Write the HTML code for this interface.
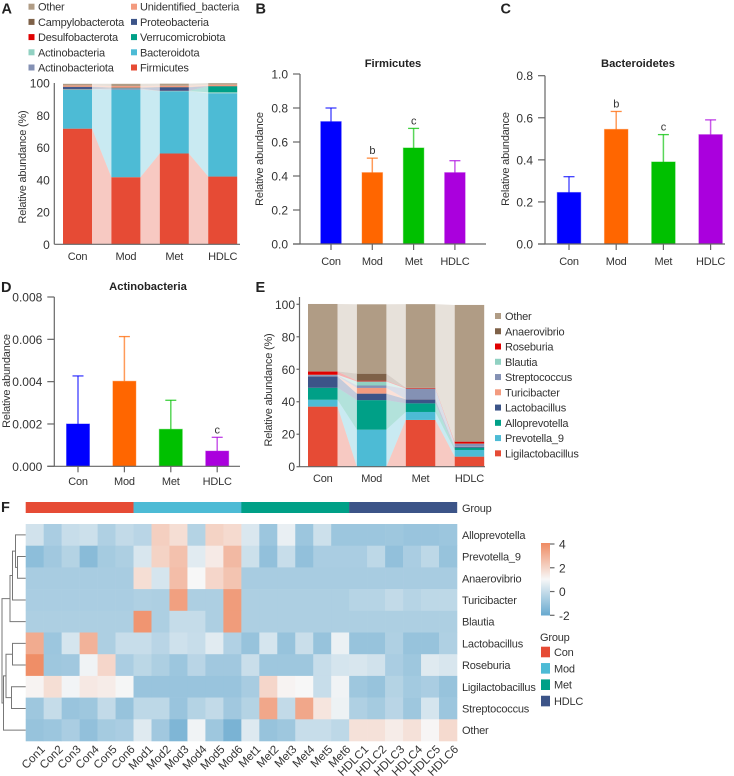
<!DOCTYPE html>
<html lang="en">
<head>
<meta charset="utf-8">
<title>Gut microbiota abundance figure</title>
<style>
html,body{margin:0;padding:0;background:#fff;width:734px;height:776px;overflow:hidden}
svg{display:block;font-family:"Liberation Sans",Arial,sans-serif;fill:#333;filter:blur(.3px)}
.plabel{font-size:14.5px;font-weight:bold;fill:#222}
.title{font-size:11.2px;font-weight:bold;fill:#222;text-anchor:middle}
.lab{letter-spacing:-.2px}
</style>
</head>
<body>
<svg id="figure" xmlns="http://www.w3.org/2000/svg" width="734" height="776" viewBox="0 0 734 776">
  <defs>
    <linearGradient id="cbar" x1="0" y1="1" x2="0" y2="0">
      <stop offset="0" stop-color="#67a9cf"/>
      <stop offset="0.5" stop-color="#f7f7f7"/>
      <stop offset="1" stop-color="#ef8a62"/>
    </linearGradient>
  </defs>
  <text class="plabel" x="1.5" y="13.5">A</text>
  <text class="plabel" x="255.5" y="13.5">B</text>
  <text class="plabel" x="500.5" y="13.5">C</text>
  <text class="plabel" x="1" y="292">D</text>
  <text class="plabel" x="255.5" y="292">E</text>
  <text class="plabel" x="1" y="512">F</text>
  <text class="title" x="393" y="67">Firmicutes</text>
  <text class="title" x="638" y="67">Bacteroidetes</text>
  <text class="title" x="148" y="290">Actinobacteria</text>
  <g id="panelA"></g>
  <g id="panelB"></g>
  <g id="panelC"></g>
  <g id="panelD"></g>
  <g id="panelE"></g>
  <g id="panelF"></g>
</svg>
<script>
const groups = ['Con', 'Mod', 'Met', 'HDLC'];

/* Panel A */
const phylumNames = ['Firmicutes','Bacteroidota','Actinobacteriota','Actinobacteria','Verrucomicrobiota','Desulfobacterota','Proteobacteria','Campylobacterota','Unidentified_bacteria','Other'];
const phylumValues = [
  [71.7, 41.6, 56.3, 42.0],
  [24.2, 54.3, 38.5, 51.6],
  [0.1, 0.5, 0.1, 0.05],
  [0.1, 0.1, 0.1, 0.6],
  [0.1, 0.1, 0.1, 3.7],
  [0.1, 0.1, 0.1, 0.05],
  [1.2, 0.3, 2.1, 0.05],
  [0.2, 0.2, 0.2, 0.1],
  [0.8, 0.9, 0.8, 0.8],
  [1.0, 1.4, 1.3, 0.95]
];
const phylumTicks = [0, 20, 40, 60, 80, 100];
const phylumLegendLeft = ['Other','Campylobacterota','Desulfobacterota','Actinobacteria','Actinobacteriota'];
const phylumLegendRight = ['Unidentified_bacteria','Proteobacteria','Verrucomicrobiota','Bacteroidota','Firmicutes'];

/* Panel B */
const firmicutesMeans = [0.72, 0.42, 0.565, 0.42];
const firmicutesUpper = [0.80, 0.505, 0.68, 0.49];
const firmicutesMarks = ['', 'b', 'c', ''];
const firmicutesTicks = ['0.0', '0.2', '0.4', '0.6', '0.8', '1.0'];

/* Panel C */
const bacteroidetesMeans = [0.245, 0.545, 0.39, 0.52];
const bacteroidetesUpper = [0.32, 0.63, 0.52, 0.59];
const bacteroidetesMarks = ['', 'b', 'c', ''];
const bacteroidetesTicks = ['0.0', '0.2', '0.4', '0.6', '0.8'];

/* Panel D */
const actinobacteriaMeans = [0.002, 0.00402, 0.00175, 0.00072];
const actinobacteriaUpper = [0.00427, 0.00613, 0.00312, 0.00137];
const actinobacteriaMarks = ['', '', '', 'c'];
const actinobacteriaTicks = ['0.000', '0.002', '0.004', '0.006', '0.008'];

/* Panel E */
const genusNames = ['Ligilactobacillus','Prevotella_9','Alloprevotella','Lactobacillus','Turicibacter','Streptococcus','Blautia','Roseburia','Anaerovibrio','Other'];
const genusValues = [
  [37.0, 0.0, 28.8, 6.2],
  [4.2, 22.8, 4.9, 4.1],
  [7.4, 18.2, 5.3, 1.4],
  [7.0, 4.0, 2.5, 0.5],
  [0.1, 3.5, 0.1, 0.1],
  [0.7, 1.5, 6.3, 1.7],
  [0.2, 2.5, 0.2, 0.2],
  [2.0, 0.5, 0.4, 1.2],
  [0.1, 4.3, 0.1, 0.1],
  [41.5, 42.7, 51.5, 84.1]
];
const genusTicks = [0, 20, 40, 60, 80, 100];

/* Panel F */
const heatColumns = ['Con1','Con2','Con3','Con4','Con5','Con6','Mod1','Mod2','Mod3','Mod4','Mod5','Mod6','Met1','Met2','Met3','Met4','Met5','Met6','HDLC1','HDLC2','HDLC3','HDLC4','HDLC5','HDLC6'];
const heatRows = ['Alloprevotella','Prevotella_9','Anaerovibrio','Turicibacter','Blautia','Lactobacillus','Roseburia','Ligilactobacillus','Streptococcus','Other'];
const heatValues = [
  [0.2,-0.6,0,0.1,-0.5,-0.1,-0.3,2.1,1.7,-0.4,2,1.8,0.4,-0.9,0.7,-0.9,0.1,-0.9,-0.9,-0.9,-0.85,-0.95,-0.95,-0.9],
  [-1.2,-0.8,-0.4,-1.3,-0.7,-0.55,0.35,2,2.5,0.55,1.35,2.7,0.1,-1.1,0,-1.1,-0.6,-0.6,-0.6,-0.2,-1.1,-0.6,-0.2,-1],
  [-0.65,-0.65,-0.65,-0.65,-0.65,-0.65,1.7,0.3,2.6,1,1.9,2.4,-0.65,-0.65,-0.65,-0.65,-0.65,-0.65,-0.65,-0.65,-0.65,-0.65,-0.65,-0.65],
  [-0.6,-0.6,-0.6,-0.6,-0.6,-0.6,-0.5,-0.55,3.4,-0.55,-0.55,3.5,-0.55,-0.55,-0.55,-0.55,-0.55,-0.55,-0.35,-0.35,-0.1,-0.35,-0.2,-0.2],
  [-0.55,-0.55,-0.55,-0.55,-0.55,-0.55,3.7,-0.55,-0.05,-0.05,-0.55,3.5,-0.55,-0.55,-0.55,-0.55,-0.55,-0.55,-0.55,-0.55,-0.55,-0.55,-0.55,-0.55],
  [3.1,-0.9,0.3,2.9,-0.55,0,0,-0.3,0.15,0,0.55,-0.45,-1,0.3,-1,0.05,-1,0.75,-1,-1,-0.5,-1,-1,-0.5],
  [3.9,-0.85,-0.8,0.85,1.9,-0.6,-0.25,-0.55,-0.9,-0.3,-0.8,-0.8,0.05,-0.85,-0.85,-0.85,0,0.3,0.35,0.2,-0.6,-0.85,0.5,0.35],
  [1.1,1.7,0.9,1.4,1.3,0.95,-0.95,-0.95,-0.95,-0.95,-0.95,-0.95,-0.65,1.9,1.1,1,0,0.85,-0.85,-1,-0.4,-0.75,-0.6,-1],
  [-0.85,-0.05,-0.95,-0.85,-0.1,-1,-0.2,-0.2,-0.95,-0.4,-0.1,-0.8,-0.4,3.2,-0.1,3.2,1.5,0.8,-0.5,-0.7,-0.3,-0.85,0.3,-0.9],
  [-1,-0.9,-0.6,-1.1,-0.7,-0.6,0.5,-0.8,-1.5,0.85,-0.85,-1.6,0.45,-1,-0.85,0,0,-0.2,1.6,1.6,1.3,1.6,1.05,1.8]
];
const heatScaleTicks = [4, 2, 0, -2];

const NS = 'http://www.w3.org/2000/svg';
const stackColors = ['#e64b35','#4dbbd5','#8491b4','#91d1c2','#00a087','#e00000','#3c5488','#7e6148','#f39b7f','#b09c85'];
const genusColors = ['#e64b35','#4dbbd5','#00a087','#3c5488','#f39b7f','#8491b4','#91d1c2','#e00000','#7e6148','#b09c85'];
const legendColorByName = {};
phylumNames.forEach(function (n, i) { legendColorByName[n] = stackColors[i]; });
const barColors = ['#0000ff', '#ff6600', '#00c000', '#aa00dd'];
const groupColors = ['#e64b35', '#4dbbd5', '#00a087', '#3c5488'];
const axisColor = '#666';
const LABEL = 11;

function linear(d0, d1, r0, r1) {
  return function (v) { return r0 + (v - d0) * (r1 - r0) / (d1 - d0); };
}
function mk(parent, tag, attrs) {
  const e = document.createElementNS(NS, tag);
  Object.keys(attrs).forEach(function (k) { e.setAttribute(k, attrs[k]); });
  parent.appendChild(e);
  return e;
}
function txt(parent, x, y, s, size, anchor, extra) {
  const e = mk(parent, 'text', Object.assign({ x: x, y: y, 'font-size': size, 'text-anchor': anchor || 'start' }, extra || {}));
  if (size === LABEL) e.setAttribute('class', 'lab');
  e.textContent = s;
  return e;
}
function axisLine(parent, x1, y1, x2, y2, width) {
  return mk(parent, 'line', { x1: x1, y1: y1, x2: x2, y2: y2, stroke: axisColor, 'stroke-width': width || 1.2 });
}
function yTitle(parent, x, y, s) {
  const e = txt(parent, x, y, s, LABEL, 'middle', { transform: 'rotate(-90 ' + x + ' ' + y + ')' });
  
  
}

function drawStack(host, series, colors, ticks, o) {
  const y = linear(0, 100, o.y0, o.y100);
  const x = function (i) { return o.x0 + i * o.step; };
  const n = groups.length;
  const base = groups.map(function () { return 0; });
  series.forEach(function (vals, s) {
    const lower = base.slice();
    const upper = vals.map(function (v, i) { return lower[i] + v; });
    for (let i = 0; i < n - 1; i++) {
      const pts = [
        [x(i) + o.w, y(upper[i])], [x(i + 1), y(upper[i + 1])],
        [x(i + 1), y(lower[i + 1])], [x(i) + o.w, y(lower[i])]
      ].map(function (p) { return p.join(','); }).join(' ');
      const band = mk(host, 'polygon', { points: pts, fill: colors[s], opacity: 0.3 });
      
      
    }
    vals.forEach(function (v, i) {
      const r = mk(host, 'rect', { x: x(i), y: y(upper[i]), width: o.w, height: Math.max(0, y(lower[i]) - y(upper[i])), fill: colors[s] });
      
      
      base[i] = upper[i];
    });
  });
  axisLine(host, o.axisX, o.axisTop, o.axisX, o.y0);
  axisLine(host, o.axisX, o.y0, o.axisRight, o.y0);
  ticks.forEach(function (t) {
    axisLine(host, o.axisX - o.tick, y(t), o.axisX, y(t));
    const l = txt(host, o.axisX - o.labelGap, y(t) + 4.5, t, 12, 'end');
    
    
  });
  groups.forEach(function (g, i) {
    const l = txt(host, x(i) + o.w / 2, o.labelY, g, LABEL, 'middle');
    
    
  });
}

function legendEntry(host, sx, tx, cy, label, color) {
  const m = mk(host, 'rect', { x: sx, y: cy - 3, width: 6, height: 6, fill: color });
  
  
  const t = txt(host, tx, cy + 4, label, LABEL, 'start');
  
  
}

function drawBars(host, means, upper, marks, ticks, o) {
  const y = linear(0, o.max, o.y0, o.yTop);
  const x = function (i) { return o.c0 + i * o.step; };
  means.forEach(function (m, i) {
    const stem = mk(host, 'line', { x1: x(i), x2: x(i), y1: y(m), y2: y(upper[i]), stroke: barColors[i], 'stroke-opacity': 0.65, 'stroke-width': 1.5 });
    
    
    const cap = mk(host, 'line', { x1: x(i) - 5.5, x2: x(i) + 5.5, y1: y(upper[i]), y2: y(upper[i]), stroke: barColors[i], 'stroke-opacity': 0.75, 'stroke-width': 1.3 });
    
    
    const bar = mk(host, 'rect', { x: x(i) - o.w / 2, y: y(m), width: o.w, height: o.y0 - y(m), fill: barColors[i], stroke: barColors[i], 'stroke-opacity': 0.4, 'stroke-width': 1 });
    
    
    if (marks[i]) {
      const s = txt(host, x(i), y(upper[i]) - 4, marks[i], 11, 'middle');
      
      
    }
    axisLine(host, x(i), o.y0, x(i), o.y0 + 6);
    const l = txt(host, x(i), o.labelY, groups[i], LABEL, 'middle');
    
    
  });
  axisLine(host, o.axisX, o.yTop, o.axisX, o.y0);
  axisLine(host, o.axisX - 7, o.y0, o.axisRight, o.y0);
  ticks.forEach(function (t) {
    const ty = y(parseFloat(t));
    axisLine(host, o.axisX - 7, ty, o.axisX, ty);
    const l = txt(host, o.axisX - 12, ty + 4.5, t, 12, 'end');
    
    
  });
}

/* ---- Panel A ---- */
const panelA = document.getElementById('panelA');
drawStack(panelA, phylumValues, stackColors, phylumTicks, { x0: 63, step: 48.4, w: 29, y0: 244.3, y100: 83, axisX: 54.3, axisTop: 83, axisRight: 240, tick: 0, labelGap: 4.5, labelY: 260 });
yTitle(panelA, 26, 167, 'Relative abundance (%)');
phylumLegendLeft.forEach(function (n, i) {
  legendEntry(panelA, 28.5, 38, 6.7 + i * 15.2, n, legendColorByName[n]);
});
phylumLegendRight.forEach(function (n, i) {
  legendEntry(panelA, 131, 140, 6.7 + i * 15.2, n, legendColorByName[n]);
});

/* ---- Panel B, C, D ---- */
const panelB = document.getElementById('panelB');
drawBars(panelB, firmicutesMeans, firmicutesUpper, firmicutesMarks, firmicutesTicks, { max: 1, y0: 244, yTop: 74, c0: 331, step: 41.3, w: 20.5, axisX: 300, axisRight: 486, labelY: 265 });
yTitle(panelB, 263, 159, 'Relative abundance');

const panelC = document.getElementById('panelC');
drawBars(panelC, bacteroidetesMeans, bacteroidetesUpper, bacteroidetesMarks, bacteroidetesTicks, { max: 0.8, y0: 244, yTop: 75.7, c0: 569, step: 47.2, w: 23.5, axisX: 545, axisRight: 725, labelY: 265 });
yTitle(panelC, 509, 159, 'Relative abundance');

const panelD = document.getElementById('panelD');
drawBars(panelD, actinobacteriaMeans, actinobacteriaUpper, actinobacteriaMarks, actinobacteriaTicks, { max: 0.008, y0: 466.3, yTop: 297, c0: 78, step: 46.4, w: 23, axisX: 54.3, axisRight: 240, labelY: 485 });
yTitle(panelD, 10, 381, 'Relative abundance');

/* ---- Panel E ---- */
const panelE = document.getElementById('panelE');
drawStack(panelE, genusValues, genusColors, genusTicks, { x0: 308, step: 48.9, w: 29.5, y0: 466.7, y100: 304.3, axisX: 299.5, axisTop: 297, axisRight: 485, tick: 3, labelGap: 4.5, labelY: 482 });
yTitle(panelE, 272, 390, 'Relative abundance (%)');
genusNames.slice().reverse().forEach(function (n, i) {
  legendEntry(panelE, 495, 505, 316 + i * 15.26, n, genusColors[genusNames.length - 1 - i]);
});

/* ---- Panel F ---- */
const panelF = document.getElementById('panelF');
const hx0 = 25.7, hx1 = 457, hy0 = 524, hy1 = 741;
const cw = (hx1 - hx0) / heatColumns.length;
const ch = (hy1 - hy0) / heatRows.length;
function mix(a, b, t) {
  const pa = [parseInt(a.slice(1, 3), 16), parseInt(a.slice(3, 5), 16), parseInt(a.slice(5, 7), 16)];
  const pb = [parseInt(b.slice(1, 3), 16), parseInt(b.slice(3, 5), 16), parseInt(b.slice(5, 7), 16)];
  return 'rgb(' + pa.map(function (c, i) { return Math.round(c + (pb[i] - c) * t); }).join(',') + ')';
}
function heatColor(v) {
  if (v <= 1) return mix('#67a9cf', '#f7f7f7', Math.max(0, (v + 2) / 3));
  return mix('#f7f7f7', '#ef8a62', Math.min(1, (v - 1) / 3));
}
groups.forEach(function (g, i) {
  const seg = mk(panelF, 'rect', { x: hx0 + i * 6 * cw, y: 502, width: 6 * cw + 0.2, height: 11, fill: groupColors[i] });
  
  
});
const groupBarLabel = txt(panelF, 462, 512, 'Group', LABEL, 'start');


heatValues.forEach(function (row, r) {
  row.forEach(function (v, c) {
    const cell = mk(panelF, 'rect', { x: hx0 + c * cw, y: hy0 + r * ch, width: cw + 0.3, height: ch + 0.3, fill: heatColor(v) });
    
    
  });
  const l = txt(panelF, 462, hy0 + (r + 0.5) * ch + 4, heatRows[r], LABEL, 'start');
  
  
});
heatColumns.forEach(function (n, c) {
  const ex = hx0 + (c + 0.5) * cw + 11;
  const ey = 750;
  const l = txt(panelF, ex, ey, n, 11.5, 'end', { transform: 'rotate(-45 ' + ex + ' ' + ey + ')' });
  
  
});

/* dendrogram built from row positions */
const rowY = function (i) { return hy0 + (i + 0.5) * ch; };
function bracket(xJoin, a, b) {
  const p = mk(panelF, 'path', { d: 'M' + a.x + ' ' + a.y + 'H' + xJoin + 'V' + b.y + 'H' + b.x, fill: 'none', stroke: '#777', 'stroke-width': 1 });
  
  
  return { x: xJoin, y: (a.y + b.y) / 2 };
}
const leaf = function (i) { return { x: hx0, y: rowY(i) }; };
const n23 = bracket(17.5, leaf(1), leaf(2));
const n123 = bracket(15.5, leaf(0), n23);
const n1234 = bracket(12.5, n123, leaf(3));
const n12345 = bracket(10, n1234, leaf(4));
const n67 = bracket(12.5, leaf(5), leaf(6));
const n89 = bracket(11.5, leaf(7), leaf(8));
const n6789 = bracket(6, n67, n89);
const n678910 = bracket(3.5, n6789, leaf(9));
bracket(2, n12345, n678910);

/* colour scale */
const colorBar = mk(panelF, 'rect', { x: 541, y: 543, width: 9, height: 72.5, fill: 'url(#cbar)' });


const scaleY = linear(-2, 4, 615.3, 544);
heatScaleTicks.forEach(function (t) {
  axisLine(panelF, 550, scaleY(t), 554.5, scaleY(t));
  const l = txt(panelF, 559, scaleY(t) + 4.5, t, 12, 'start');
  
  
});
const groupLegendTitle = txt(panelF, 540, 641, 'Group', LABEL, 'start');


groups.forEach(function (g, i) {
  const cy = 652 + i * 16.35;
  const s = mk(panelF, 'rect', { x: 541, y: cy - 5.3, width: 9, height: 10.6, fill: groupColors[i] });
  
  
  const l = txt(panelF, 554, cy + 4, g, LABEL, 'start');
  
  
});
</script>
</body>
</html>
